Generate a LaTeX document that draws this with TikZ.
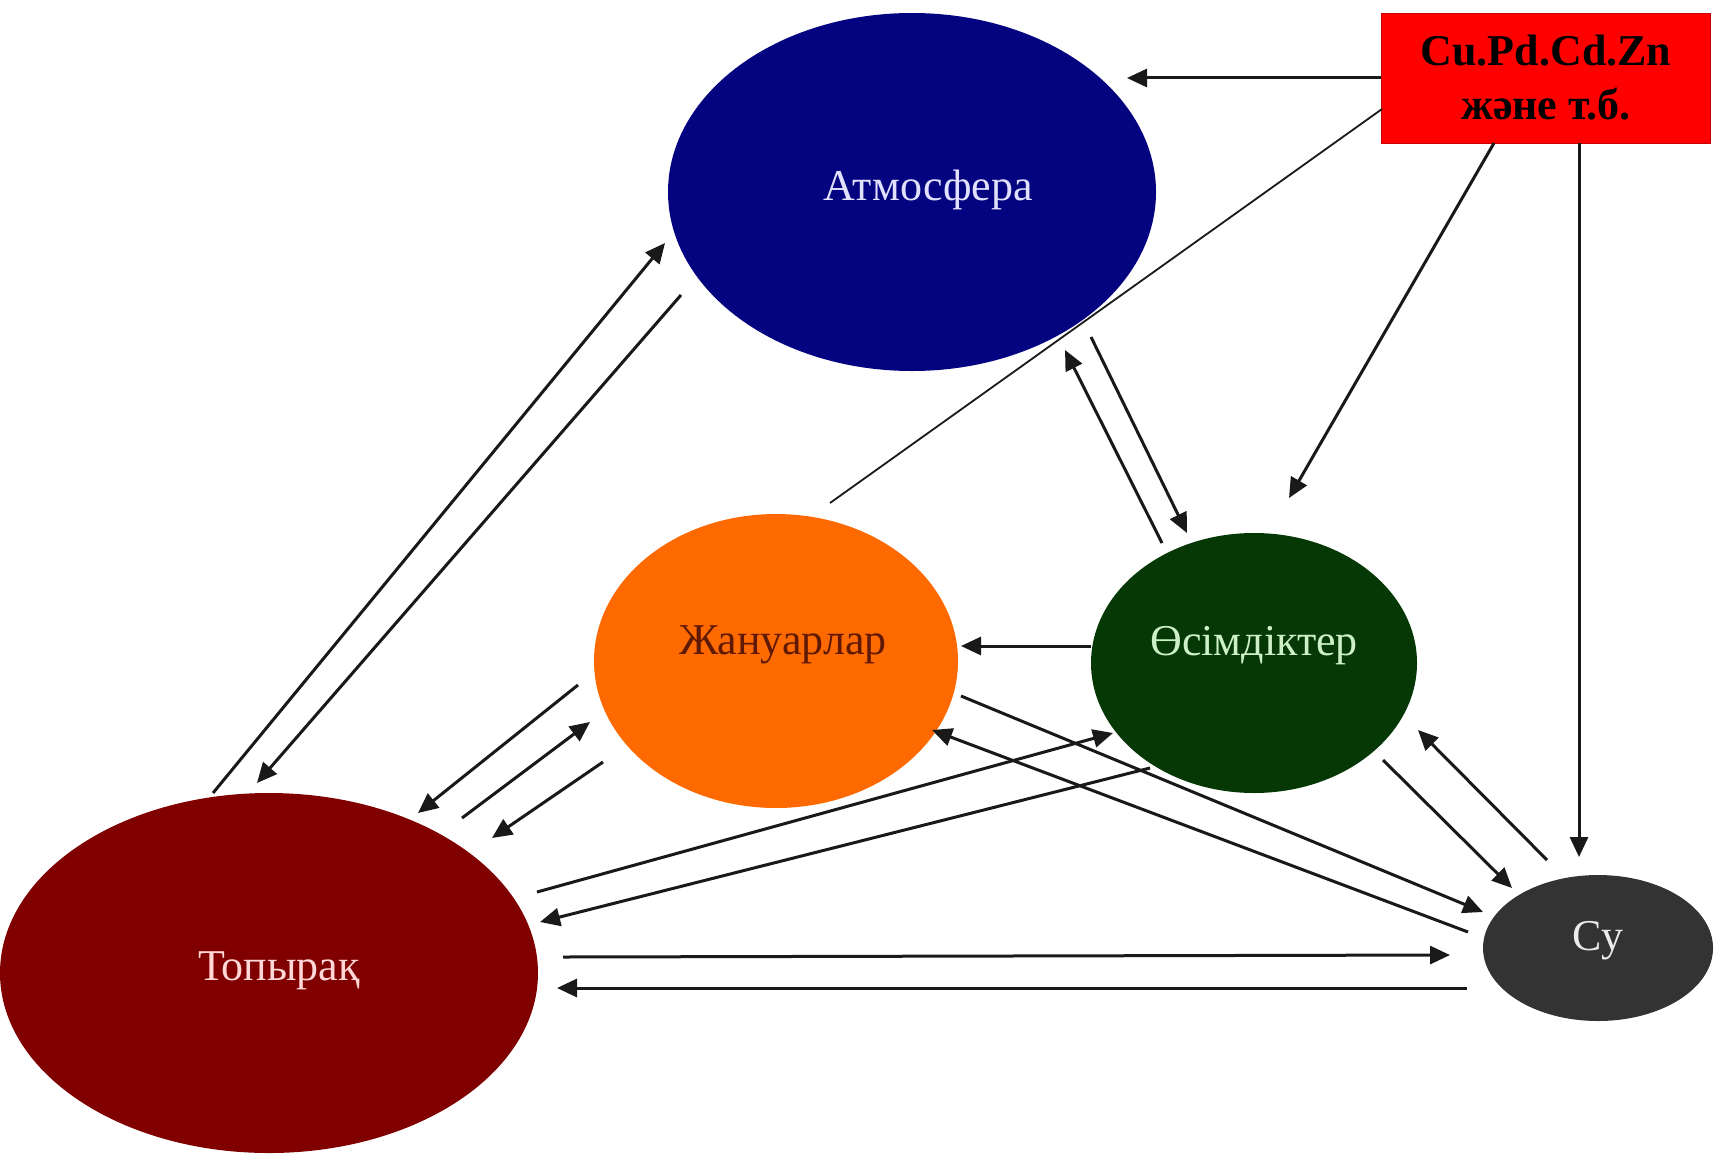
\documentclass[tikz,border=0pt]{standalone}
\usepackage{fontspec}
\setmainfont{Liberation Serif}
\usetikzlibrary{shapes.geometric, arrows.meta}

\definecolor{atmfill}{RGB}{4,4,128}
\definecolor{atmtext}{RGB}{225,225,255}
\definecolor{animfill}{RGB}{255,106,0}
\definecolor{animtext}{RGB}{95,25,5}
\definecolor{plantfill}{RGB}{5,56,5}
\definecolor{planttext}{RGB}{205,240,200}
\definecolor{soilfill}{RGB}{128,0,0}
\definecolor{soiltext}{RGB}{255,215,215}
\definecolor{waterfill}{RGB}{51,51,51}
\definecolor{watertext}{RGB}{235,235,235}

\begin{document}
\begin{tikzpicture}[
  x=0.5pt, y=-0.5pt,
  sphere/.style={ellipse, inner sep=0pt, text height=15pt, font=\fontsize{22}{26}\selectfont},
  src/.style={rectangle, draw=red!80!black, fill=red, minimum width=164.5pt, minimum height=65pt, inner sep=0pt, align=center, font=\fontsize{22}{27}\selectfont\bfseries},
  arr/.style={-{Triangle[length=10pt,width=9pt]}, line width=1.5pt, draw=black!90},
  link/.style={line width=0.9pt, draw=black!90},
]
\useasboundingbox (0,0) rectangle (1716,1156);

\node[sphere, fill=atmfill, text=atmtext, minimum width=244pt, minimum height=179pt, text depth=7pt] (atm) at (912,192) {\hspace*{16pt}Атмосфера};
\node[src] (metal) at (1546,78) {Cu.Pd.Cd.Zn\\және т.б.};
\node[sphere, fill=animfill, text=animtext, minimum width=182pt, minimum height=147pt, text depth=22pt] (anim) at (776,661) {\hspace*{7pt}Жануарлар};
\node[sphere, fill=plantfill, text=planttext, minimum width=163pt, minimum height=130pt, text depth=23pt] (plant) at (1254,663) {Өсімдіктер};
\node[sphere, fill=soilfill, text=soiltext, minimum width=269pt, minimum height=180pt, text depth=8pt] (soil) at (269,973) {\hspace*{10pt}Топырақ};
\node[sphere, fill=waterfill, text=watertext, minimum width=115pt, minimum height=73pt, text depth=13pt] (water) at (1598,948) {Су};

% from the metals
\draw[arr] (metal.west) -- ([shift={(215,-114)}]atm.center);
\draw[link] ([shift={(-164,31)}]metal.center) -- ([shift={(54,-158)}]anim.center);
\draw[arr] ([shift={(-52,65)}]metal.center) -- ([shift={(35,-165)}]plant.center);
\draw[arr] ([shift={(33,65)}]metal.center) -- ([shift={(-19,-91)}]water.center);

% atmosphere
\draw[arr] ([shift={(-56,-180)}]soil.center) -- ([shift={(-247,51)}]atm.center);
\draw[arr] ([shift={(-231,103)}]atm.center) -- ([shift={(-12,-190)}]soil.center);
\draw[arr] ([shift={(179,145)}]atm.center) -- ([shift={(-67,-130)}]plant.center);
\draw[arr] ([shift={(-92,-120)}]plant.center) -- ([shift={(153,158)}]atm.center);

% plants, animals, soil
\draw[arr] ([shift={(-163,-17)}]plant.center) -- ([shift={(185,-15)}]anim.center);
\draw[arr] ([shift={(-198,24)}]anim.center) -- ([shift={(149,-160)}]soil.center);
\draw[arr] ([shift={(193,-155)}]soil.center) -- ([shift={(-186,61)}]anim.center);
\draw[arr] ([shift={(-173,101)}]anim.center) -- ([shift={(223,-135)}]soil.center);
\draw[arr] ([shift={(268,-81)}]soil.center) -- ([shift={(-141,70)}]plant.center);
\draw[arr] ([shift={(-104,105)}]plant.center) -- ([shift={(271,-51)}]soil.center);

% water
\draw[arr] ([shift={(185,35)}]anim.center) -- ([shift={(-115,-36)}]water.center);
\draw[arr] ([shift={(-130,-16)}]water.center) -- ([shift={(156,69)}]anim.center);
\draw[arr] ([shift={(129,97)}]plant.center) -- ([shift={(-86,-60)}]water.center);
\draw[arr] ([shift={(-51,-88)}]water.center) -- ([shift={(164,67)}]plant.center);
\draw[arr] ([shift={(294,-16)}]soil.center) -- ([shift={(-148,7)}]water.center);
\draw[arr] ([shift={(-131,40)}]water.center) -- ([shift={(288,15)}]soil.center);
\end{tikzpicture}
\end{document}
